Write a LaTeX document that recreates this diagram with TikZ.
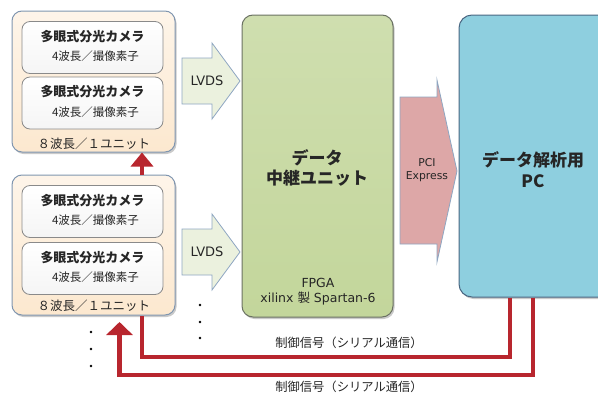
\documentclass[tikz,border=0pt]{standalone}
\usepackage{fontspec}
\setmainfont{Noto Sans CJK JP}
\newfontfamily\lat{DejaVu Sans}
\usetikzlibrary{arrows.meta,shadows}
\definecolor{unitfill}{HTML}{FCE8CF}
\definecolor{unitline}{HTML}{8096B0}
\definecolor{camline}{HTML}{8A8A8A}
\definecolor{relayfill}{HTML}{C3D69B}
\definecolor{relayline}{HTML}{6B7263}
\definecolor{pcfill}{HTML}{8ECFDF}
\definecolor{pcline}{HTML}{4A6782}
\definecolor{lvdsfill}{HTML}{EBF1DE}
\definecolor{arrline}{HTML}{8EA6C2}
\definecolor{pcifill}{HTML}{DDA7A7}
\definecolor{ctlred}{HTML}{B8262E}
\definecolor{txt}{HTML}{262626}
\tikzset{
  shd/.style={drop shadow={shadow xshift=1.5pt,shadow yshift=-2pt,opacity=0.35,fill=black!60}},
  unitbox/.style={shd,draw=unitline,line width=1pt,rounded corners=10pt,top color=unitfill!45,bottom color=unitfill,minimum width=163pt},
  cambox/.style={draw=camline,line width=0.8pt,rounded corners=8pt,top color=white,bottom color=black!4,minimum width=141pt,minimum height=52pt},
  camtitle/.style={font=\bfseries\fontsize{13pt}{15pt}\selectfont,text=txt},
  camsub/.style={font=\fontsize{11.5pt}{13pt}\selectfont,text=txt},
  foot/.style={font=\fontsize{12.5pt}{14pt}\selectfont,text=txt},
  relaybox/.style={shd,draw=relayline,line width=1pt,rounded corners=11pt,top color=relayfill!80,bottom color=relayfill,minimum width=151pt,minimum height=302pt},
  pcbox/.style={shd,draw=pcline,line width=1pt,rounded corners=13pt,fill=pcfill,minimum width=153pt,minimum height=282pt},
  fat/.style={draw=arrline,line width=0.8pt},
  small/.style={font=\lat\fontsize{13pt}{15pt}\selectfont,text=txt},
  tiny/.style={font=\lat\fontsize{10.8pt}{13.5pt}\selectfont,text=txt},
  ctl/.style={draw=ctlred,line width=4.5pt},
  ctllab/.style={font=\fontsize{12.3pt}{14pt}\selectfont,text=txt},
  dotmark/.style={fill=black}
}
\begin{document}
\begin{tikzpicture}[x=1pt,y=-1pt]
\useasboundingbox (0,0) rectangle (598,394);
\clip (0,0) rectangle (598,394);
% camera units
\node[unitbox,minimum height=141pt] (u1) at (93.5,81.5) {};
\node[unitbox,minimum height=140pt] (u2) at (93.5,245) {};
\node[cambox] (c1) at (92.5,47.5) {};
\node[cambox] (c2) at (92.5,103) {};
\node[cambox] (c3) at (92.5,211.5) {};
\node[cambox] (c4) at (92.5,268.5) {};
\foreach \c in {c1,c2,c3,c4}{
  \node[camtitle] (\c t) at ([yshift=11pt]\c.center) {多眼式分光カメラ};
  \node[camsub] (\c s) at ([xshift=3pt,yshift=-9pt]\c.center) {4波長／撮像素子};
}
\node[foot] (f1) at (94,144) {８波長／１ユニット};
\node[foot] (f2) at (94,306) {８波長／１ユニット};
% relay unit
\node[relaybox] (relay) at (317.5,166) {};
\node[font=\bfseries\fontsize{17pt}{19.5pt}\selectfont,text=txt,align=center] (relayt) at (317,168) {データ\\中継ユニット};
\node[font=\lat\fontsize{12.5pt}{15pt}\selectfont,text=txt,align=center] (fpga) at (318,291.5) {FPGA\\xilinx {\rmfamily 製} Spartan-6};
% PC
\node[pcbox] (pc) at (535.5,156) {};
\node[font=\bfseries\fontsize{17pt}{21pt}\selectfont,text=txt,align=center] (pct) at (533,170) {データ解析用\\PC};
% LVDS arrows
\draw[fat,fill=lvdsfill] (182,58) -- (212,58) -- (212,43) -- (240,81) -- (212,119) -- (212,104) -- (182,104) -- cycle;
\node[small] (lv1) at (207,81) {LVDS};
\draw[fat,fill=lvdsfill] (182,229) -- (212,229) -- (212,214) -- (240,252) -- (212,290) -- (212,275) -- (182,275) -- cycle;
\node[small] (lv2) at (207,252) {LVDS};
% PCI arrow
\draw[fat,fill=pcifill] (400,97) -- (437,97) -- (437,80) -- (457,171) -- (437,262) -- (437,244) -- (400,244) -- cycle;
\node[tiny,align=center] (pci) at (427,170) {PCI\\Express};
% dots
\foreach \y in {305,322,338} \fill[dotmark] (200,\y) circle (1.4pt);
\foreach \y in {332,349,366} \fill[dotmark] (91,\y) circle (1.4pt);
% control lines
\coordinate (p1) at (510,0);
\coordinate (p2) at (533,0);
\coordinate (x1) at (142,0);
\coordinate (x2) at (119.5,0);
\coordinate (l1) at (0,357);
\coordinate (l2) at (0,375);
\coordinate (tip2) at (119.5,322);
\draw[ctl] (pc.south -| p1) -- (l1 -| p1) -- (l1 -| x1) -- (u2.south -| x1);
\draw[ctl,-{Triangle[width=26pt,length=13pt]}] (pc.south -| p2) -- (l2 -| p2) -- (l2 -| x2) -- (tip2);
\draw[ctl,-{Triangle[width=22pt,length=14pt]}] (u2.north -| x1) -- (u1.south -| x1);
\node[ctllab] (cl1) at (349,343) {制御信号（シリアル通信）};
\node[ctllab] (cl2) at (349,387) {制御信号（シリアル通信）};
\end{tikzpicture}
\end{document}
